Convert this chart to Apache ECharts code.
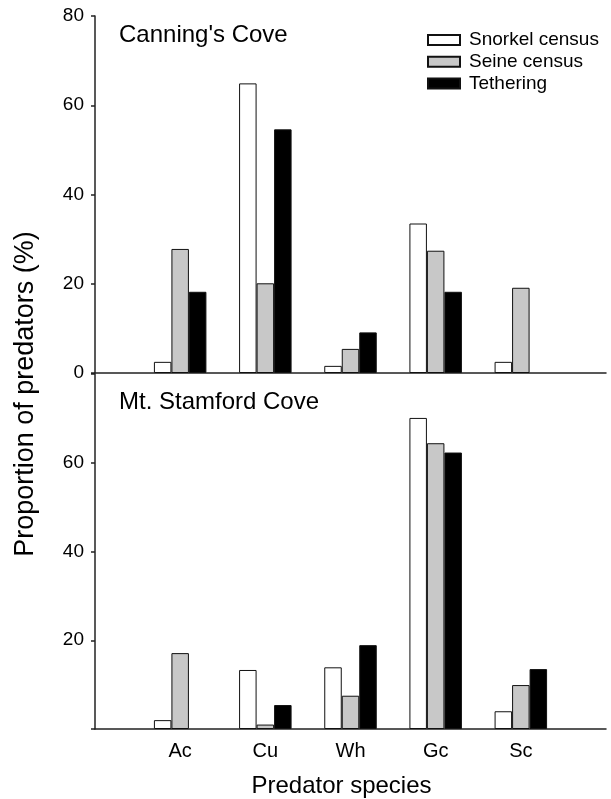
<!DOCTYPE html>
<html>
<head>
<meta charset="utf-8">
<script src="https://cdn.jsdelivr.net/npm/echarts@6/dist/echarts.min.js"></script>
<style>
  html, body { margin: 0; padding: 0; background: #fff; }
  #main { width: 611px; height: 799px; }
</style>
</head>
<body>
<div id="main"></div>
<script>
const categories = ["Ac", "Cu", "Wh", "Gc", "Sc"];
const seriesNames = ["Snorkel census", "Seine census", "Tethering"];

// Canning's Cove (top panel)
const canningSnorkel = [2.5, 64.9, 1.6, 33.5, 2.5];
const canningSeine = [27.8, 20.1, 5.4, 27.4, 19.1];
const canningTether = [18.2, 54.6, 9.1, 18.2, 0];

// Mt. Stamford Cove (bottom panel)
const stamfordSnorkel = [2.0, 13.3, 13.9, 70.1, 4.0];
const stamfordSeine = [17.1, 1.0, 7.5, 64.4, 9.9];
const stamfordTether = [0, 5.4, 18.9, 62.3, 13.5];

const yTicksTop = [0, 20, 40, 60, 80];
const yTicksBottom = [20, 40, 60];

const FONT = "'Liberation Sans', Arial, sans-serif";
const fills = ["#ffffff", "#c8c8c8", "#000000"];

// empty slot on each side so groups sit on ticks 1..5 of a 6-interval axis
const padded = arr => [null, ...arr.map(v => (v === 0 ? null : v)), null];
const axisCats = ["", ...categories, ""];

const chartDom = document.getElementById("main");
const myChart = echarts.init(chartDom, null, { renderer: "canvas" });

function makeSeries(values, idx, gridIdx) {
  return {
    name: seriesNames[idx],
    type: "bar",
    xAxisIndex: gridIdx,
    yAxisIndex: gridIdx,
    data: padded(values),
    barWidth: 17.5,
    barGap: "0%",
    itemStyle: { color: fills[idx], borderColor: "#111", borderWidth: 1 },
    emphasis: { disabled: true },
    animation: false
  };
}

const axisLine = { show: true, lineStyle: { color: "#222", width: 1.5 } };

const option = {
  backgroundColor: "#fff",
  textStyle: { fontFamily: FONT },
  grid: [
    { left: 95, right: 5, top: 16, height: 357 },
    { left: 95, right: 5, top: 374, height: 358 }
  ],
  legend: {
    orient: "vertical",
    left: 427,
    top: 30,
    padding: 0,
    itemWidth: 32,
    itemHeight: 10,
    itemGap: 1.7,
    icon: "rect",
    data: seriesNames,
    selectedMode: false,
    textStyle: { fontFamily: FONT, fontSize: 19, color: "#000", lineHeight: 20, padding: [0, 0, 0, 4] }
  },
  xAxis: [
    {
      type: "category",
      gridIndex: 0,
      data: axisCats,
      boundaryGap: false,
      axisLine: axisLine,
      axisTick: { show: false },
      axisLabel: { show: false },
      splitLine: { show: false }
    },
    {
      type: "category",
      gridIndex: 1,
      data: axisCats,
      boundaryGap: false,
      axisLine: axisLine,
      axisTick: { show: false },
      axisLabel: { fontSize: 20, color: "#000", margin: 12, fontFamily: FONT },
      splitLine: { show: false },
      name: "Predator species",
      nameLocation: "middle",
      nameGap: 45,
      nameTextStyle: { fontSize: 24, color: "#000", fontFamily: FONT, padding: [0, 18, 0, 0] }
    }
  ],
  yAxis: [
    {
      type: "value",
      gridIndex: 0,
      min: 0,
      max: 80,
      interval: 20,
      axisLine: axisLine,
      axisTick: { show: true, inside: false, length: 4, lineStyle: { color: "#222", width: 1.5 } },
      axisLabel: {
        fontSize: 19, color: "#000", margin: 11, fontFamily: FONT,
        formatter: v => (yTicksTop.includes(v) ? String(v) : "")
      },
      splitLine: { show: false }
    },
    {
      type: "value",
      gridIndex: 1,
      min: 0,
      max: 80,
      interval: 20,
      axisLine: axisLine,
      axisTick: { show: true, inside: false, length: 4, lineStyle: { color: "#222", width: 1.5 } },
      axisLabel: {
        fontSize: 19, color: "#000", margin: 11, fontFamily: FONT,
        formatter: v => (yTicksBottom.includes(v) ? String(v) : "")
      },
      splitLine: { show: false }
    }
  ],
  graphic: [
    {
      type: "text",
      x: 119,
      y: 35,
      style: { text: "Canning's Cove", font: "24px " + FONT, fill: "#000", textVerticalAlign: "middle" }
    },
    {
      type: "text",
      x: 119,
      y: 402,
      style: { text: "Mt. Stamford Cove", font: "24px " + FONT, fill: "#000", textVerticalAlign: "middle" }
    },
    {
      type: "text",
      x: 26,
      y: 394,
      rotation: Math.PI / 2,
      style: {
        text: "Proportion of predators (%)",
        font: "27px " + FONT,
        fill: "#000",
        textAlign: "center",
        textVerticalAlign: "middle"
      }
    }
  ],
  series: [
    makeSeries(canningSnorkel, 0, 0),
    makeSeries(canningSeine, 1, 0),
    makeSeries(canningTether, 2, 0),
    makeSeries(stamfordSnorkel, 0, 1),
    makeSeries(stamfordSeine, 1, 1),
    makeSeries(stamfordTether, 2, 1)
  ]
};

option && myChart.setOption(option);
</script>
</body>
</html>
